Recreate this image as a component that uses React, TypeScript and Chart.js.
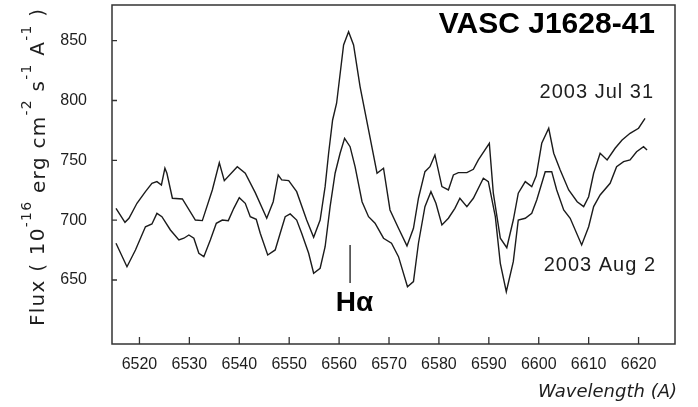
import React, { useEffect, useRef } from "react";
import { Chart, registerables } from "chart.js";

Chart.register(...registerables);

// 2003 Jul 31 spectrum (upper curve)
const julWave = [
  6515.3, 6517.1, 6517.9, 6519.5, 6521.2, 6522.5, 6523.5, 6524.4, 6525.1, 6525.5,
  6526.6, 6528.6, 6531.2, 6532.6, 6534.6, 6536.0, 6537.0, 6539.6, 6541.2, 6543.2,
  6545.5, 6546.8, 6547.8, 6548.5, 6549.9, 6551.5, 6553.5, 6554.9, 6556.2, 6557.2,
  6557.9, 6558.7, 6559.5, 6560.9, 6561.9, 6562.9, 6564.2, 6565.9, 6567.6, 6568.9,
  6570.2, 6571.9, 6573.6, 6574.9, 6575.9, 6577.2, 6578.2, 6579.2, 6580.6, 6581.9,
  6582.9, 6583.9, 6585.6, 6586.9, 6587.9, 6590.1, 6590.9, 6592.3, 6593.6, 6594.9,
  6595.9, 6597.3, 6598.6, 6599.5, 6600.6, 6602.0, 6603.0, 6604.3, 6606.0, 6607.7,
  6609.0, 6610.0, 6611.0, 6612.3, 6613.7, 6615.3, 6616.7, 6618.3, 6620.0, 6621.3,
];
const julFlux = [
  709.9, 698.2, 701.6, 714.1, 723.8, 730.8, 732.2, 729.4, 743.4, 739.2,
  718.3, 717.7, 700.1, 699.6, 725.2, 748.0, 733.0, 744.7, 739.2, 723.0,
  701.6, 715.4, 737.8, 733.6, 733.0, 723.8, 700.1, 685.7, 700.1, 728.0,
  755.9, 783.7, 797.7, 846.4, 857.5, 846.4, 811.6, 775.4, 739.2, 743.4,
  708.5, 693.2, 678.5, 693.2, 718.3, 740.5, 744.7, 754.5, 728.0, 725.2,
  737.8, 739.7, 739.7, 742.5, 750.3, 764.2, 722.5, 684.9, 677.0, 700.1,
  722.5, 732.2, 728.0, 737.0, 764.2, 776.8, 755.9, 741.9, 725.2, 715.4,
  711.3, 719.6, 739.2, 755.9, 750.3, 760.1, 767.0, 772.6, 776.8, 785.1,
];

// 2003 Aug 2 spectrum (lower curve)
const augWave = [
  6515.3, 6517.5, 6519.2, 6521.2, 6522.5, 6523.5, 6524.5, 6526.2, 6527.9, 6528.9,
  6529.9, 6530.9, 6531.9, 6532.9, 6534.2, 6535.4, 6536.6, 6537.8, 6538.9, 6540.0,
  6541.2, 6542.2, 6543.4, 6544.2, 6545.7, 6547.2, 6548.2, 6549.2, 6550.2, 6551.5,
  6552.5, 6553.9, 6554.9, 6556.2, 6557.2, 6558.2, 6559.2, 6560.2, 6561.1, 6562.2,
  6563.2, 6564.6, 6565.9, 6567.2, 6568.9, 6570.5, 6571.9, 6573.7, 6574.9, 6575.9,
  6577.2, 6578.4, 6579.4, 6580.6, 6581.9, 6583.2, 6584.2, 6585.6, 6586.9, 6588.9,
  6589.9, 6591.3, 6592.3, 6593.5, 6594.9, 6595.9, 6597.3, 6598.6, 6599.6, 6601.3,
  6602.6, 6603.6, 6605.0, 6606.3, 6608.6, 6610.0, 6611.0, 6612.3, 6614.3, 6615.6,
  6617.0, 6618.3, 6619.6, 6621.0, 6621.7,
];
const augFlux = [
  680.7, 661.1, 675.1, 694.5, 696.8, 705.7, 702.9, 691.8, 683.4, 684.9,
  687.6, 684.9, 672.3, 669.5, 683.4, 697.4, 700.1, 699.6, 709.9, 718.8,
  714.1, 702.9, 700.7, 689.0, 670.9, 675.1, 689.0, 702.9, 705.2, 700.1,
  689.0, 672.3, 655.6, 659.8, 677.8, 711.3, 739.2, 755.9, 768.4, 761.4,
  744.7, 715.4, 702.9, 697.4, 684.9, 680.7, 669.5, 644.4, 648.6, 680.7,
  711.3, 723.8, 714.1, 696.0, 701.6, 709.9, 718.3, 711.3, 718.3, 735.0,
  732.2, 702.9, 663.9, 640.2, 665.3, 700.1, 701.6, 705.7, 716.9, 740.5,
  740.5, 725.2, 708.5, 701.6, 679.3, 694.5, 711.3, 721.0, 730.8, 744.7,
  748.9, 750.3, 757.2, 761.4, 758.6,
];

// H-alpha marker
const hAlphaWave = 6562.2;
const hAlphaMarkFlux = [679.3, 647.5];

const xTicks = [6520, 6530, 6540, 6550, 6560, 6570, 6580, 6590, 6600, 6610, 6620];
const yTicks = [650, 700, 750, 800, 850];
const xRange = [6514.5, 6627.3];
const yRange = [596.5, 879.8];

const LINE = "#1b1b1b";
const TEXT = "#1e1e1e";

const decor = {
  id: "decor",
  afterDraw(chart: any) {
    const { ctx, chartArea: a, scales } = chart;
    const xs = scales.x;
    const ys = scales.y;
    ctx.save();
    // frame
    ctx.strokeStyle = "#333";
    ctx.lineWidth = 1.5;
    ctx.strokeRect(a.left, a.top, a.right - a.left, a.bottom - a.top);
    // inward ticks
    ctx.lineWidth = 1.3;
    ctx.beginPath();
    xTicks.forEach((v) => {
      const px = xs.getPixelForValue(v);
      ctx.moveTo(px, a.bottom);
      ctx.lineTo(px, a.bottom - 7);
    });
    yTicks.forEach((v) => {
      const py = ys.getPixelForValue(v);
      ctx.moveTo(a.left, py);
      ctx.lineTo(a.left + 5, py);
    });
    ctx.stroke();

    // title and labels
    ctx.fillStyle = "#000";
    ctx.textBaseline = "middle";
    ctx.textAlign = "right";
    ctx.font = "bold 30px 'Liberation Sans', Arial, sans-serif";
    ctx.fillText("VASC J1628-41", xs.getPixelForValue(6623.3), ys.getPixelForValue(863.1));

    ctx.fillStyle = TEXT;
    ctx.font = "20px 'Liberation Sans', Arial, sans-serif";
    ctx.letterSpacing = "1px";
    ctx.fillText("2003 Jul 31", xs.getPixelForValue(6623.1), ys.getPixelForValue(807.1));
    ctx.fillText("2003 Aug 2", xs.getPixelForValue(6623.5), ys.getPixelForValue(662.5));
    ctx.letterSpacing = "0px";

    ctx.fillStyle = "#000";
    ctx.textAlign = "center";
    ctx.font = "bold 28px 'Liberation Sans', Arial, sans-serif";
    ctx.fillText("H\u03b1", xs.getPixelForValue(6563.1), ys.getPixelForValue(630.8));

    // x axis title
    ctx.fillStyle = TEXT;
    ctx.textAlign = "right";
    ctx.font = "italic 18px 'DejaVu Sans', sans-serif";
    ctx.fillText("Wavelength (A)", a.right + 2, 392);

    // y axis title with superscripts, stretched to the reference length
    const segs: [string, number, number][] = [
      ["Flux ( 10", 20, 0],
      ["-16", 14, -13],
      [" erg cm", 20, 1],
      ["-2", 14, -13],
      [" s", 20, 0],
      ["-1", 14, -13],
      [" A", 20, 0],
      ["-1", 14, -13],
      [" )", 20, 0],
    ];
    const fam = "'DejaVu Sans', sans-serif";
    let natural = 0;
    segs.forEach(([t, size]) => {
      ctx.font = `${size}px ${fam}`;
      natural += ctx.measureText(t).width;
    });
    const chars = segs.reduce((n, [t]) => n + t.length, 0);
    const extra = Math.max(0, (318 - natural) / chars);
    ctx.translate(44, 326);
    ctx.rotate(-Math.PI / 2);
    ctx.textAlign = "left";
    ctx.textBaseline = "alphabetic";
    let pos = 0;
    segs.forEach(([t, size, dy]) => {
      ctx.font = `${size}px ${fam}`;
      for (const ch of t) {
        ctx.fillText(ch, pos, dy);
        pos += ctx.measureText(ch).width + extra;
      }
    });
    ctx.restore();
  },
};

export default function App() {
  const canvasRef = useRef<HTMLCanvasElement>(null);
  const chartRef = useRef<Chart | null>(null);

  useEffect(() => {
    document.body.style.margin = "0";
    if (!canvasRef.current) return;
    if (chartRef.current) chartRef.current.destroy();

    const tickFont = { family: "'Liberation Sans', Arial, sans-serif", size: 16 };

    chartRef.current = new Chart(canvasRef.current, {
      type: "line",
      data: {
        datasets: [
          {
            label: "2003 Jul 31",
            data: julWave.map((x, i) => ({ x, y: julFlux[i] })),
            borderColor: LINE,
            borderWidth: 1.4,
            pointRadius: 0,
            tension: 0,
          },
          {
            label: "2003 Aug 2",
            data: augWave.map((x, i) => ({ x, y: augFlux[i] })),
            borderColor: LINE,
            borderWidth: 1.4,
            pointRadius: 0,
            tension: 0,
          },
          {
            label: "H alpha",
            data: hAlphaMarkFlux.map((y) => ({ x: hAlphaWave, y })),
            borderColor: LINE,
            borderWidth: 1.3,
            pointRadius: 0,
          },
        ],
      },
      options: {
        responsive: false,
        animation: false,
        events: [],
        layout: { padding: { left: 0, top: 5, right: 23, bottom: 0 } },
        plugins: {
          legend: { display: false },
          tooltip: { enabled: false },
          title: { display: false },
        },
        scales: {
          x: {
            type: "linear",
            min: xRange[0],
            max: xRange[1],
            grid: { display: false },
            border: { display: false },
            ticks: {
              font: tickFont,
              color: TEXT,
              padding: 3,
              maxRotation: 0,
              autoSkip: false,
              callback: (v: any) => String(v),
            },
            afterBuildTicks: (s: any) => {
              s.ticks = xTicks.map((value) => ({ value }));
            },
            afterFit: (s: any) => {
              s.height = 63;
              s.paddingLeft = 0;
              s.paddingRight = 0;
            },
          },
          y: {
            type: "linear",
            min: yRange[0],
            max: yRange[1],
            grid: { display: false },
            border: { display: false },
            ticks: {
              font: tickFont,
              color: TEXT,
              padding: 17,
              autoSkip: false,
              callback: (v: any) => String(v),
            },
            afterBuildTicks: (s: any) => {
              s.ticks = yTicks.map((value) => ({ value }));
            },
            afterFit: (s: any) => {
              s.width = 112;
              s.paddingTop = 0;
              s.paddingBottom = 0;
            },
          },
        },
      },
      plugins: [decor],
    });

    return () => {
      if (chartRef.current) {
        chartRef.current.destroy();
        chartRef.current = null;
      }
    };
  }, []);

  return (
    <div style={{ width: 698, height: 407, background: "#fff" }}>
      <canvas ref={canvasRef} width={698} height={407} />
    </div>
  );
}
